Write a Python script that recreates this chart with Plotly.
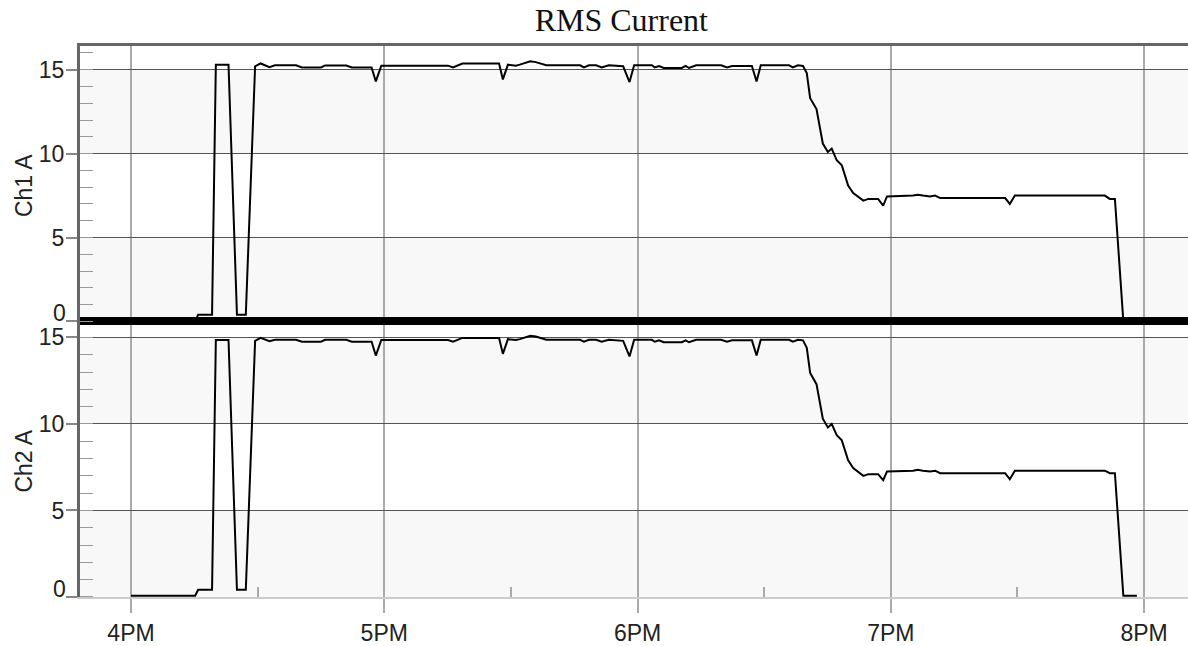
import pandas as pd
import plotly.graph_objects as go

# ---- data (minutes after 4PM) ----
minutes = [0, 15.2, 15.9, 19.2, 20.1, 23.1, 25.1, 27.2, 29.4, 30.7, 32.8, 34.1, 39.1, 40.5,
           45.0, 46.0, 51.0, 52.3, 57.0, 58.0, 59.3, 75.1, 76.3, 78.5, 87.2, 88.1, 89.3,
           91.2, 92.1, 94.6, 95.9, 98.4, 106.4, 107.3, 108.5, 110.2, 111.5, 113.2, 116.6,
           118.1, 119.2, 123.4, 124.1, 125.1, 126.2, 130.5, 131.4, 132.2, 133.9, 139.8,
           141.2, 142.4, 147.1, 148.2, 149.2, 155.9, 156.8, 158.0, 159.2, 160.1, 160.9,
           162.4, 163.9, 165.1, 166.0, 167.2, 168.4, 169.9, 171.1, 173.5, 174.7, 177.0,
           178.2, 179.1, 185.3, 186.4, 187.6, 189.3, 190.5, 191.7, 207.1, 208.2, 209.4,
           230.7, 231.9, 233.1, 235.1, 238.3]

ch1 = [0, 0, 0.4, 0.4, 15.3, 15.3, 0.4, 0.4, 15.2, 15.37, 15.15, 15.26, 15.26, 15.13,
       15.13, 15.25, 15.25, 15.13, 15.13, 14.3, 15.24, 15.24, 15.13, 15.37, 15.37, 14.42, 15.3,
       15.24, 15.3, 15.5, 15.45, 15.26, 15.26, 15.13, 15.26, 15.26, 15.13, 15.26, 15.2,
       14.26, 15.26, 15.26, 15.13, 15.22, 15.1, 15.1, 15.22, 15.1, 15.26, 15.26,
       15.13, 15.22, 15.22, 14.3, 15.26, 15.26, 15.13, 15.26, 15.22, 14.8, 13.3,
       12.65, 10.6, 10.1, 10.3, 9.6, 9.3, 8.1, 7.65, 7.2, 7.3, 7.3,
       6.9, 7.45, 7.5, 7.55, 7.5, 7.45, 7.5, 7.35, 7.35, 7.0, 7.5,
       7.5, 7.3, 7.3, 0, 0]

ch2 = [0.07, 0.07, 0.42, 0.42, 14.85, 14.85, 0.42, 0.42, 14.8, 14.97, 14.78, 14.86, 14.86, 14.75,
       14.75, 14.86, 14.86, 14.75, 14.75, 13.95, 14.85, 14.85, 14.75, 14.97, 14.97, 14.05, 14.9,
       14.85, 14.9, 15.1, 15.05, 14.86, 14.86, 14.75, 14.86, 14.86, 14.75, 14.86, 14.8,
       13.9, 14.86, 14.86, 14.75, 14.83, 14.72, 14.72, 14.83, 14.72, 14.86, 14.86,
       14.75, 14.83, 14.83, 13.95, 14.86, 14.86, 14.75, 14.86, 14.83, 14.4, 12.95,
       12.3, 10.3, 9.8, 10.0, 9.35, 9.05, 7.9, 7.45, 7.0, 7.1, 7.1,
       6.75, 7.25, 7.3, 7.35, 7.3, 7.25, 7.3, 7.15, 7.15, 6.8, 7.3,
       7.3, 7.15, 7.15, 0.07, 0.07]

hour_labels = ["4PM", "5PM", "6PM", "7PM", "8PM"]
hour_ticks = ["2021-06-01 16:00", "2021-06-01 17:00", "2021-06-01 18:00",
              "2021-06-01 19:00", "2021-06-01 20:00"]
half_ticks = ["2021-06-01 16:30", "2021-06-01 17:30", "2021-06-01 18:30", "2021-06-01 19:30"]
x_range = ["2021-06-01 15:47:55", "2021-06-01 20:10:25"]
y_ticks = [0, 5, 10, 15]
y_ticktext = ["", "5", "10", "15"]
bands = [(0, 5), (10, 15)]

base = pd.Timestamp("2021-06-01 16:00:00")
times = [base + pd.Timedelta(minutes=m) for m in minutes]

SANS = "Liberation Sans, Arial, sans-serif"
SERIF = "Liberation Serif, Times New Roman, serif"
split = 0.4928

fig = go.Figure()
fig.add_trace(go.Scatter(x=times, y=ch1, mode="lines", line=dict(color="black", width=2),
                         xaxis="x", yaxis="y", showlegend=False))
fig.add_trace(go.Scatter(x=times, y=ch2, mode="lines", line=dict(color="black", width=2),
                         xaxis="x2", yaxis="y2", showlegend=False))

ycommon = dict(
    tickvals=y_ticks, ticktext=y_ticktext, ticks="outside", ticklen=11, tickcolor="#888",
    tickwidth=1.5, showline=True, linecolor="#666", linewidth=3,
    showgrid=True, gridcolor="#555", gridwidth=1,
    tickfont=dict(family=SANS, size=23, color="#222"),
    ticklabelstandoff=-3,
    minor=dict(dtick=1, tick0=0, ticks="inside", ticklen=13, tickcolor="#999", tickwidth=1,
               showgrid=False),
    title_font=dict(family=SANS, size=23, color="#222"), title_standoff=0,
)

fig.update_layout(
    width=1188, height=646,
    margin=dict(l=80, r=0, t=46, b=42),
    paper_bgcolor="white", plot_bgcolor="white",
    title=dict(text="RMS Current", font=dict(family=SERIF, size=32, color="#111"),
               x=0.523, xanchor="center", y=1 - 20 / 646, yanchor="middle", yref="container"),
    xaxis=dict(domain=[0, 1], anchor="y", range=x_range, matches="x2",
               tickvals=hour_ticks, showticklabels=False, ticks="", side="top",
               showline=True, linecolor="#666", linewidth=3,
               showgrid=True, gridcolor="#aaa", gridwidth=1.5),
    xaxis2=dict(domain=[0, 1], anchor="y2", range=x_range,
                tickvals=hour_ticks, ticktext=hour_labels, ticks="outside", ticklen=14,
                tickcolor="#aaa", tickwidth=1.5,
                showline=True, linecolor="#ccc", linewidth=2,
                showgrid=True, gridcolor="#aaa", gridwidth=1.5,
                tickfont=dict(family=SANS, size=23, color="#222"),
                minor=dict(tickmode="array", tickvals=half_ticks, ticks="inside", ticklen=10,
                           tickcolor="#aaa", tickwidth=1.5, showgrid=False)),
    yaxis=dict(domain=[split, 1], anchor="x", range=[-0.24, 16.41],
               zeroline=True, zerolinecolor="black", zerolinewidth=8,
               title_text="Ch1 A", **ycommon),
    yaxis2=dict(domain=[0, split], anchor="x2", range=[0, 15.69], zeroline=False,
                title_text="Ch2 A", **ycommon),
)

shapes = []
for yref in ["y", "y2"]:
    for lo, hi in bands:
        shapes.append(dict(type="rect", xref="paper", x0=0, x1=1, yref=yref, y0=lo, y1=hi,
                           fillcolor="#f8f8f8", line=dict(width=0), layer="below"))
fig.update_layout(shapes=shapes)

for yref in ["y", "y2"]:
    fig.add_annotation(text="0", xref="paper", x=0, xanchor="right", xshift=-12,
                       yref=yref, y=0, yanchor="middle", yshift=8, showarrow=False,
                       font=dict(family=SANS, size=23, color="#222"))

fig.write_html("out.html", config={"displayModeBar": False},
               post_script="document.body.style.margin='0';")
